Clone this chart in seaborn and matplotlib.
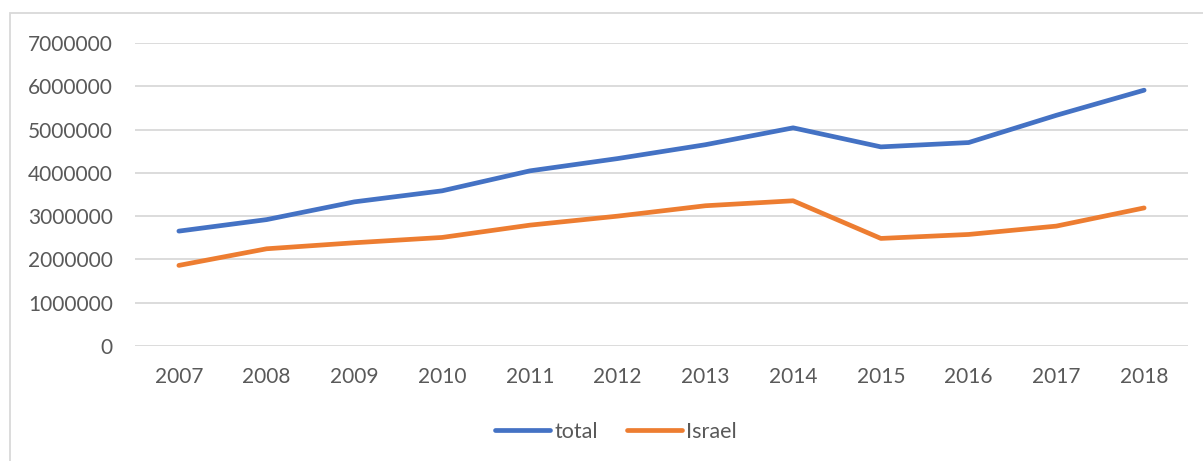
import matplotlib.pyplot as plt
import matplotlib.patches as mpatches
import seaborn as sns
import pandas as pd

years = ['2007', '2008', '2009', '2010', '2011', '2012',
         '2013', '2014', '2015', '2016', '2017', '2018']
total = [2654000, 2920000, 3330000, 3585000, 4046000, 4330000,
         4650000, 5040000, 4600000, 4700000, 5330000, 5910000]
israel = [1862000, 2246000, 2385000, 2508000, 2792000, 3000000,
          3240000, 3355000, 2485000, 2577000, 2770000, 3190000]
series_names = ['total', 'Israel']
colors = ['#4472C4', '#ED7D31']

df = pd.DataFrame({
    'year': years * 2,
    'value': total + israel,
    'series': [series_names[0]] * len(years) + [series_names[1]] * len(years),
})

sns.set_style('white')
plt.rcParams['font.family'] = ['Lato', 'DejaVu Sans']

fig = plt.figure(figsize=(12.03, 4.61), dpi=100)
ax = fig.add_axes([135 / 1203, 1 - 346 / 461, (1188 - 135) / 1203, (346 - 43) / 461])

sns.lineplot(data=df, x='year', y='value', hue='series', palette=colors,
             linewidth=3.4, sort=False, ax=ax, solid_capstyle='round')

ax.set_xlim(-0.5, len(years) - 0.5)
ax.set_ylim(0, 7000000)
ax.set_yticks(range(0, 7000001, 1000000))
ax.set_yticklabels([str(v) for v in range(0, 7000001, 1000000)])
ax.grid(axis='y', color='#D9D9D9', linewidth=1.3)
ax.set_axisbelow(True)
for s in ax.spines.values():
    s.set_visible(False)
ax.tick_params(axis='y', length=0, pad=16, labelsize=15, labelcolor='#595959')
ax.tick_params(axis='x', length=0, pad=15, labelsize=15, labelcolor='#595959')
ax.set_xlabel('')
ax.set_ylabel('')

handles, labels = ax.get_legend_handles_labels()
ax.legend(handles, labels, loc='center', bbox_to_anchor=(616 / 1203, 1 - 432 / 461),
          bbox_transform=fig.transFigure, ncol=2, frameon=False, fontsize=15.5,
          handlelength=2.55, handletextpad=0.2, columnspacing=1.35,
          labelcolor='#595959')

# outer chart frame
fig.patches.append(mpatches.Rectangle((10 / 1203, -0.1), 1.2, 1.1 - 13 / 461,
                                      transform=fig.transFigure, fill=False,
                                      edgecolor='#D9D9D9', linewidth=1.3))

fig.savefig('out.png', dpi=100)
